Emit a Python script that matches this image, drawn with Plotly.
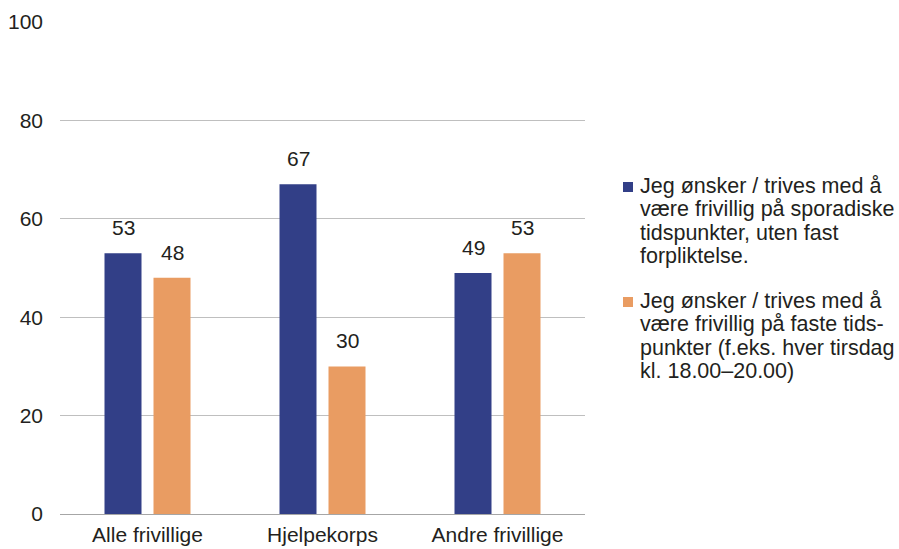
import plotly.graph_objects as go

categories = ["Alle frivillige", "Hjelpekorps", "Andre frivillige"]
sporadic = [53, 67, 49]
fixed = [48, 30, 53]
legend_lines = [
    ["Jeg ønsker / trives med å", "være frivillig på sporadiske",
     "tidspunkter, uten fast", "forpliktelse."],
    ["Jeg ønsker / trives med å", "være frivillig på faste tids-",
     "punkter (f.eks. hver tirsdag", "kl. 18.00–20.00)"],
]
y_ticks = [0, 20, 40, 60, 80, 100]

BLUE = "#323F87"
ORANGE = "#E99C62"
FONT = "Liberation Sans, Arial, sans-serif"
TEXT = "#231F20"
FS = 21
FS_LEGEND = 21.5

# plot area in pixels (used to place the hand-built legend)
W, H = 899, 549
ML, MR, MT, MB = 60, 314, 22, 35
PLOT_W = W - ML - MR
PLOT_H = H - MT - MB


def px_to_paper(px):
    return (px - ML) / PLOT_W


def py_to_paper(py):
    return (H - MB - py) / PLOT_H


fig = go.Figure()
colors = [BLUE, ORANGE]
for lines, vals, color in zip(legend_lines, [sporadic, fixed], colors):
    fig.add_trace(go.Bar(
        x=categories, y=vals, name=" ".join(lines),
        marker=dict(color=color, line=dict(width=0)),
    ))

# value labels above each bar
offsets = [-0.14, 0.14]
for k, vals in enumerate([sporadic, fixed]):
    for i, v in enumerate(vals):
        fig.add_annotation(
            x=i + offsets[k], y=v, xref="x", yref="y", text=str(v),
            showarrow=False, yanchor="bottom", yshift=12,
            font=dict(family=FONT, size=FS, color=TEXT),
        )

# legend: colour square beside the first line, tight line spacing
entry_tops = [186, 301]
line_step = 23.3
for k, lines in enumerate(legend_lines):
    top = entry_tops[k]
    fig.add_shape(
        type="rect", xref="paper", yref="paper",
        x0=px_to_paper(623), x1=px_to_paper(633),
        y0=py_to_paper(top + 6), y1=py_to_paper(top - 4),
        fillcolor=colors[k], line=dict(width=0),
    )
    for j, txt in enumerate(lines):
        fig.add_annotation(
            x=px_to_paper(638), y=py_to_paper(top + j * line_step),
            xref="paper", yref="paper", xanchor="left", yanchor="middle",
            text=txt, showarrow=False,
            font=dict(family=FONT, size=FS_LEGEND, color=TEXT),
        )

fig.update_layout(
    width=W, height=H,
    margin=dict(l=ML, r=MR, t=MT, b=MB, autoexpand=False),
    paper_bgcolor="white", plot_bgcolor="white",
    barmode="group", bargap=0.44, bargroupgap=0.245,
    font=dict(family=FONT, size=FS, color=TEXT),
    showlegend=False,
    xaxis=dict(
        range=[-0.5, 2.5], showgrid=False, showline=False, ticks="",
        automargin=False, ticklabelstandoff=6,
        tickfont=dict(family=FONT, size=FS, color=TEXT),
    ),
    yaxis=dict(
        range=[0, 100], tickvals=y_ticks, showgrid=True, gridcolor="#BFBFBF",
        gridwidth=1, zeroline=True, zerolinecolor="#A6A6A6", zerolinewidth=1,
        ticks="", ticklabelstandoff=16, showline=False, automargin=False,
        tickfont=dict(family=FONT, size=FS, color=TEXT),
    ),
)

fig.write_html("out.html")
